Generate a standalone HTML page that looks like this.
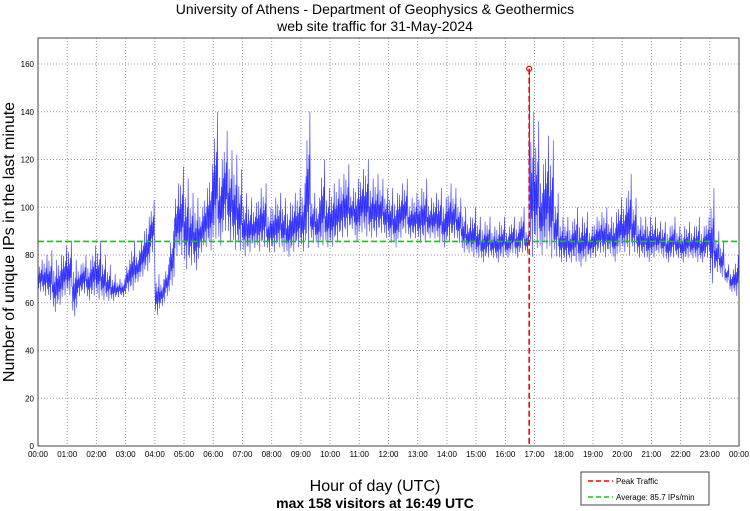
<!DOCTYPE html>
<html><head><meta charset="utf-8"><style>
body{margin:0;background:#fff;}
svg{display:block;font-family:"Liberation Sans",sans-serif;}
</style></head><body>
<svg id="chart" width="750" height="511">
<text x="375" y="14" text-anchor="middle" font-size="14">University of Athens - Department of Geophysics &amp; Geothermics</text>
<text x="375" y="31" text-anchor="middle" font-size="14">web site traffic for 31-May-2024</text>
<g id="grid"></g>
<g id="series"></g>
<g id="overlay"></g>
<rect x="38" y="38" width="701" height="408" fill="none" stroke="#444" stroke-width="1"/>
<g id="axes"></g>
<text transform="translate(14,242) rotate(-90)" text-anchor="middle" font-size="16">Number of unique IPs in the last minute</text>
<text x="375" y="491" text-anchor="middle" font-size="16">Hour of day (UTC)</text>
<text x="375" y="508" text-anchor="middle" font-size="14" font-weight="bold">max 158 visitors at 16:49 UTC</text>
<g>
<rect x="581" y="472" width="128" height="33" fill="#fff" stroke="#444" stroke-width="1"/>
<line x1="588" y1="481" x2="613" y2="481" stroke="#f00" stroke-dasharray="5,3" stroke-width="1.5"/>
<text x="616" y="484" font-size="8">Peak Traffic</text>
<line x1="588" y1="497" x2="613" y2="497" stroke="#2b2" stroke-dasharray="5,3" stroke-width="1.5"/>
<text x="616" y="500" font-size="8">Average: 85.7 IPs/min</text>
</g>
</svg>
<script>
const hiVals=[78,80,82,78,80,84, 86,78,76,80,78,84, 86,80,76,72,70,70, 78,86,82,90,96,103, 72,70,76,90,110,117, 112,106,104,100,108,118, 140,120,132,124,122,116, 106,104,102,108,110,100, 104,106,104,102,106,108, 110,140,106,104,120,108, 110,112,114,118,108,112, 116,120,112,114,112,108, 108,106,110,112,104,106, 108,112,104,106,108,104, 110,108,104,100,96,100, 96,94,96,92,94,96, 92,96,94,100,92,140, 136,118,130,128,106,96, 96,94,100,96,98,92, 96,98,100,96,98,104, 104,114,104,96,96,96, 96,94,94,92,96,92, 92,94,92,96,92,96, 108,90,86,76,74,80];
const loVals=[64,62,60,55,58,62, 62,53,62,63,60,62, 60,60,60,60,62,62, 64,64,68,70,72,80, 54,58,62,66,78,78, 72,74,72,80,82,80, 84,82,88,84,80,80, 78,80,82,80,82,80, 80,82,80,78,80,82, 80,80,84,82,82,82, 82,84,86,86,90,84, 88,86,86,86,88,86, 84,82,86,88,86,86, 84,84,86,86,84,82, 84,86,84,80,80,78, 78,76,78,78,76,78, 78,80,78,80,80,76, 80,78,80,76,78,76, 76,76,76,74,76,78, 78,80,78,80,76,80, 80,78,80,78,78,76, 78,80,78,76,78,78, 76,78,78,76,76,78, 66,72,70,68,64,62];
const peakMinute=16*60+49, peakValue=158, avgValue=85.7;
const yTicks=[0,20,40,60,80,100,120,140,160];
const xTickLabels=["00:00","01:00","02:00","03:00","04:00","05:00","06:00","07:00","08:00","09:00","10:00","11:00","12:00","13:00","14:00","15:00","16:00","17:00","18:00","19:00","20:00","21:00","22:00","23:00","00:00"];
const L=38,R=739,B=446,T=38;
const xS=m=>L+(R-L)*m/1440;
const yS=v=>B-v*(382/160);
const NS="http://www.w3.org/2000/svg";
function mk(tag,attrs,parent){const e=document.createElementNS(NS,tag);for(const k in attrs)e.setAttribute(k,attrs[k]);parent.appendChild(e);return e;}
const grid=document.getElementById('grid'),axes=document.getElementById('axes');
yTicks.forEach(v=>{
  const g=mk('line',{x1:L,x2:R,y1:yS(v),y2:yS(v),stroke:'#999','stroke-dasharray':'1,2','stroke-width':1},grid);
  
  
  const t=mk('text',{x:L-4,y:yS(v)+3,'text-anchor':'end','font-size':8},axes);
  t.textContent=v;
  
  
});
xTickLabels.forEach((s,i)=>{
  const x=xS(i*60);
  const g=mk('line',{x1:x,x2:x,y1:T,y2:B,stroke:'#999','stroke-dasharray':'1,2','stroke-width':1},grid);
  
  
  const t=mk('text',{x:x,y:457,'text-anchor':'middle','font-size':8},axes);
  t.textContent=s;
  
  
});
const pattern=[0.55,0.15,0.8,0.3,0.6,0.05,0.7,0.35,1.0,0.2];
let pts=[];
for(let m=0;m<1440;m++){
  const b=Math.floor(m/10);
  let v=loVals[b]+(hiVals[b]-loVals[b])*pattern[m%10];
  if(m===peakMinute)v=peakValue;
  pts.push(xS(m+0.5).toFixed(2)+','+yS(v).toFixed(2));
}
const line=mk('polyline',{points:pts.join(' '),fill:'none',stroke:'#00f','stroke-width':0.6,'stroke-opacity':0.8},document.getElementById('series'));


const ov=document.getElementById('overlay');
const avg=mk('line',{x1:L,x2:R,y1:yS(avgValue),y2:yS(avgValue),stroke:'#2b2','stroke-dasharray':'6,3','stroke-width':1.6},ov);


const pk=mk('line',{x1:xS(peakMinute),x2:xS(peakMinute),y1:yS(peakValue),y2:B,stroke:'#f00','stroke-dasharray':'6,3','stroke-width':1.6},ov);


const pm=mk('circle',{cx:xS(peakMinute),cy:yS(peakValue),r:2.5,fill:'none',stroke:'#f00','stroke-width':1.2},ov);


</script>
</body></html>
